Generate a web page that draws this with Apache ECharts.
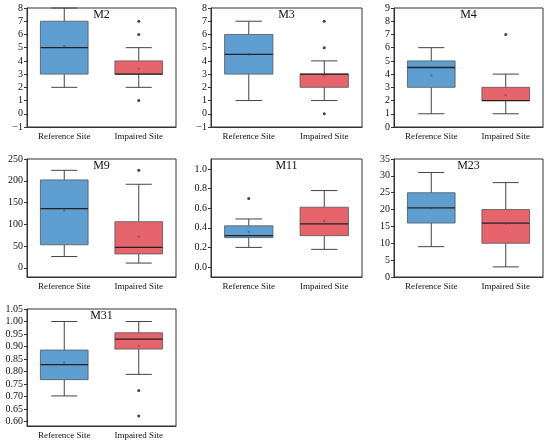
<!DOCTYPE html>
<html>
<head>
<meta charset="utf-8">
<script src="https://cdn.jsdelivr.net/npm/echarts@6/dist/echarts.min.js"></script>
<style>
  html, body { margin: 0; padding: 0; background: #fff; }
  #main { width: 550px; height: 447px; }
</style>
</head>
<body>
<div id="main"></div>
<script>
var sites = ['Reference Site', 'Impaired Site'];

// box stats per site: [min, Q1, median, Q3, max]
var m2Box = [[2, 3, 5, 7, 8], [2, 3, 3, 4, 5]];
var m2Mean = [5.1, 3.4];
var m2Out = [[1, 7], [1, 6], [1, 1]];
var m2Ticks = [-1, 0, 1, 2, 3, 4, 5, 6, 7, 8];

var m3Box = [[1, 3, 4.5, 6, 7], [1, 2, 3, 3, 4]];
var m3Mean = [4.5, 2.9];
var m3Out = [[1, 7], [1, 5], [1, 0]];
var m3Ticks = [-1, 0, 1, 2, 3, 4, 5, 6, 7, 8];

var m4Box = [[1, 3, 4.5, 5, 6], [1, 2, 2, 3, 4]];
var m4Mean = [3.9, 2.4];
var m4Out = [[1, 7]];
var m4Ticks = [0, 1, 2, 3, 4, 5, 6, 7, 8, 9];

var m9Box = [[26, 53, 136, 202, 224], [11, 32, 47, 106, 192]];
var m9Mean = [132, 72];
var m9Out = [[1, 224]];
var m9Ticks = [0, 50, 100, 150, 200, 250];

var m11Box = [[0.20, 0.30, 0.32, 0.42, 0.49], [0.18, 0.32, 0.44, 0.61, 0.78]];
var m11Mean = [0.36, 0.47];
var m11Out = [[0, 0.70]];
var m11Ticks = [0.0, 0.2, 0.4, 0.6, 0.8, 1.0];

var m23Box = [[9, 16, 20.5, 25, 31], [3, 10, 16, 20, 28]];
var m23Mean = [20.4, 15.9];
var m23Out = [];
var m23Ticks = [0, 5, 10, 15, 20, 25, 30, 35];

var m31Box = [[0.703, 0.768, 0.828, 0.886, 1.0], [0.789, 0.89, 0.93, 0.955, 1.0]];
var m31Mean = [0.836, 0.902];
var m31Out = [[1, 0.725], [1, 0.623]];
var m31Ticks = [0.60, 0.65, 0.70, 0.75, 0.80, 0.85, 0.90, 0.95, 1.00, 1.05];

var panels = [
  {name: 'M2', box: m2Box, mean: m2Mean, out: m2Out, ticks: m2Ticks, min: -1, max: 8, dec: 0},
  {name: 'M3', box: m3Box, mean: m3Mean, out: m3Out, ticks: m3Ticks, min: -1, max: 8, dec: 0},
  {name: 'M4', box: m4Box, mean: m4Mean, out: m4Out, ticks: m4Ticks, min: 0, max: 9, dec: 0},
  {name: 'M9', box: m9Box, mean: m9Mean, out: m9Out, ticks: m9Ticks, min: -21, max: 250, dec: 0},
  {name: 'M11', box: m11Box, mean: m11Mean, out: m11Out, ticks: m11Ticks, min: -0.102, max: 1.102, dec: 1},
  {name: 'M23', box: m23Box, mean: m23Mean, out: m23Out, ticks: m23Ticks, min: 0, max: 35, dec: 0},
  {name: 'M31', box: m31Box, mean: m31Mean, out: m31Out, ticks: m31Ticks, min: 0.583, max: 1.05, dec: 2}
];

// layout of the 3x3 grid
var colLeft = [27, 211, 394];
var colWidth = [149, 151, 149];
var rowTop = [8, 159, 309];
var rowHeight = [119, 118, 117];

var boxColors = ['#5f9ed1', '#e6646b'];
var font = '"Liberation Serif", "Times New Roman", serif';

var grids = [], xAxes = [], yAxes = [], series = [], graphics = [];

panels.forEach(function (p, i) {
  var r = Math.floor(i / 3), c = i % 3;
  var g = {left: colLeft[c], top: rowTop[r], width: colWidth[c], height: rowHeight[r],
    show: true, borderColor: '#333', borderWidth: 1, backgroundColor: 'transparent'};
  grids.push(g);

  xAxes.push({
    type: 'category', gridIndex: i, data: sites,
    axisLine: {onZero: false, lineStyle: {color: '#333', width: 1}},
    axisTick: {alignWithLabel: true, length: 3, lineStyle: {color: '#333'}},
    axisLabel: {fontFamily: font, fontSize: 9, color: '#111', margin: 5}
  });

  yAxes.push({
    type: 'value', gridIndex: i, min: p.min, max: p.max,
    splitLine: {show: false},
    axisLine: {show: true, onZero: false, lineStyle: {color: '#333', width: 1}},
    axisTick: {show: true, length: 3, customValues: p.ticks, lineStyle: {color: '#333'}},
    axisLabel: {
      fontFamily: font, fontSize: 10, color: '#111', margin: 4,
      customValues: p.ticks,
      formatter: (function (dec) {
        return function (v) { return Number(v).toFixed(dec).replace('-', '\u2212'); };
      })(p.dec)
    }
  });

  series.push({
    type: 'custom', xAxisIndex: i, yAxisIndex: i,
    data: p.box.map(function (b, k) { return [k].concat(b); }),
    encode: {x: 0, y: [1, 2, 3, 4, 5]},
    renderItem: function (params, api) {
      var x = api.value(0);
      var band = api.size([1, 0])[0];
      var hw = band * 0.32, cw = band * 0.175;
      var lo = api.coord([x, api.value(1)]);
      var q1 = api.coord([x, api.value(2)]);
      var md = api.coord([x, api.value(3)]);
      var q3 = api.coord([x, api.value(4)]);
      var hi = api.coord([x, api.value(5)]);
      var cx = lo[0];
      var wStyle = {stroke: '#444', lineWidth: 1};
      return {
        type: 'group',
        children: [
          {type: 'line', shape: {x1: cx, y1: q1[1], x2: cx, y2: lo[1]}, style: wStyle},
          {type: 'line', shape: {x1: cx, y1: q3[1], x2: cx, y2: hi[1]}, style: wStyle},
          {type: 'line', shape: {x1: cx - cw, y1: lo[1], x2: cx + cw, y2: lo[1]}, style: wStyle},
          {type: 'line', shape: {x1: cx - cw, y1: hi[1], x2: cx + cw, y2: hi[1]}, style: wStyle},
          {type: 'rect', shape: {x: cx - hw, y: q3[1], width: hw * 2, height: q1[1] - q3[1]},
            style: {fill: boxColors[params.dataIndex], stroke: '#555', lineWidth: 0.8}},
          {type: 'line', shape: {x1: cx - hw, y1: md[1], x2: cx + hw, y2: md[1]},
            style: {stroke: '#222', lineWidth: 1.3}}
        ]
      };
    }
  });

  series.push({
    type: 'scatter', xAxisIndex: i, yAxisIndex: i, z: 5,
    data: p.mean.map(function (m, k) { return [k, m]; }),
    symbolSize: 2.5, itemStyle: {color: 'rgba(70,70,70,0.55)'}, silent: true
  });

  series.push({
    type: 'scatter', xAxisIndex: i, yAxisIndex: i, z: 5,
    data: p.out, symbolSize: 3, itemStyle: {color: '#111'}, silent: true
  });

  graphics.push({
    type: 'text', x: g.left + g.width / 2, y: g.top + 1, z: 10,
    style: {text: p.name, fontFamily: font, fontSize: 12, fill: '#111',
      textAlign: 'center', textVerticalAlign: 'top'}
  });
});

var chart = echarts.init(document.getElementById('main'));
chart.setOption({
  animation: false,
  grid: grids,
  xAxis: xAxes,
  yAxis: yAxes,
  series: series,
  graphic: graphics
});
</script>
</body>
</html>
